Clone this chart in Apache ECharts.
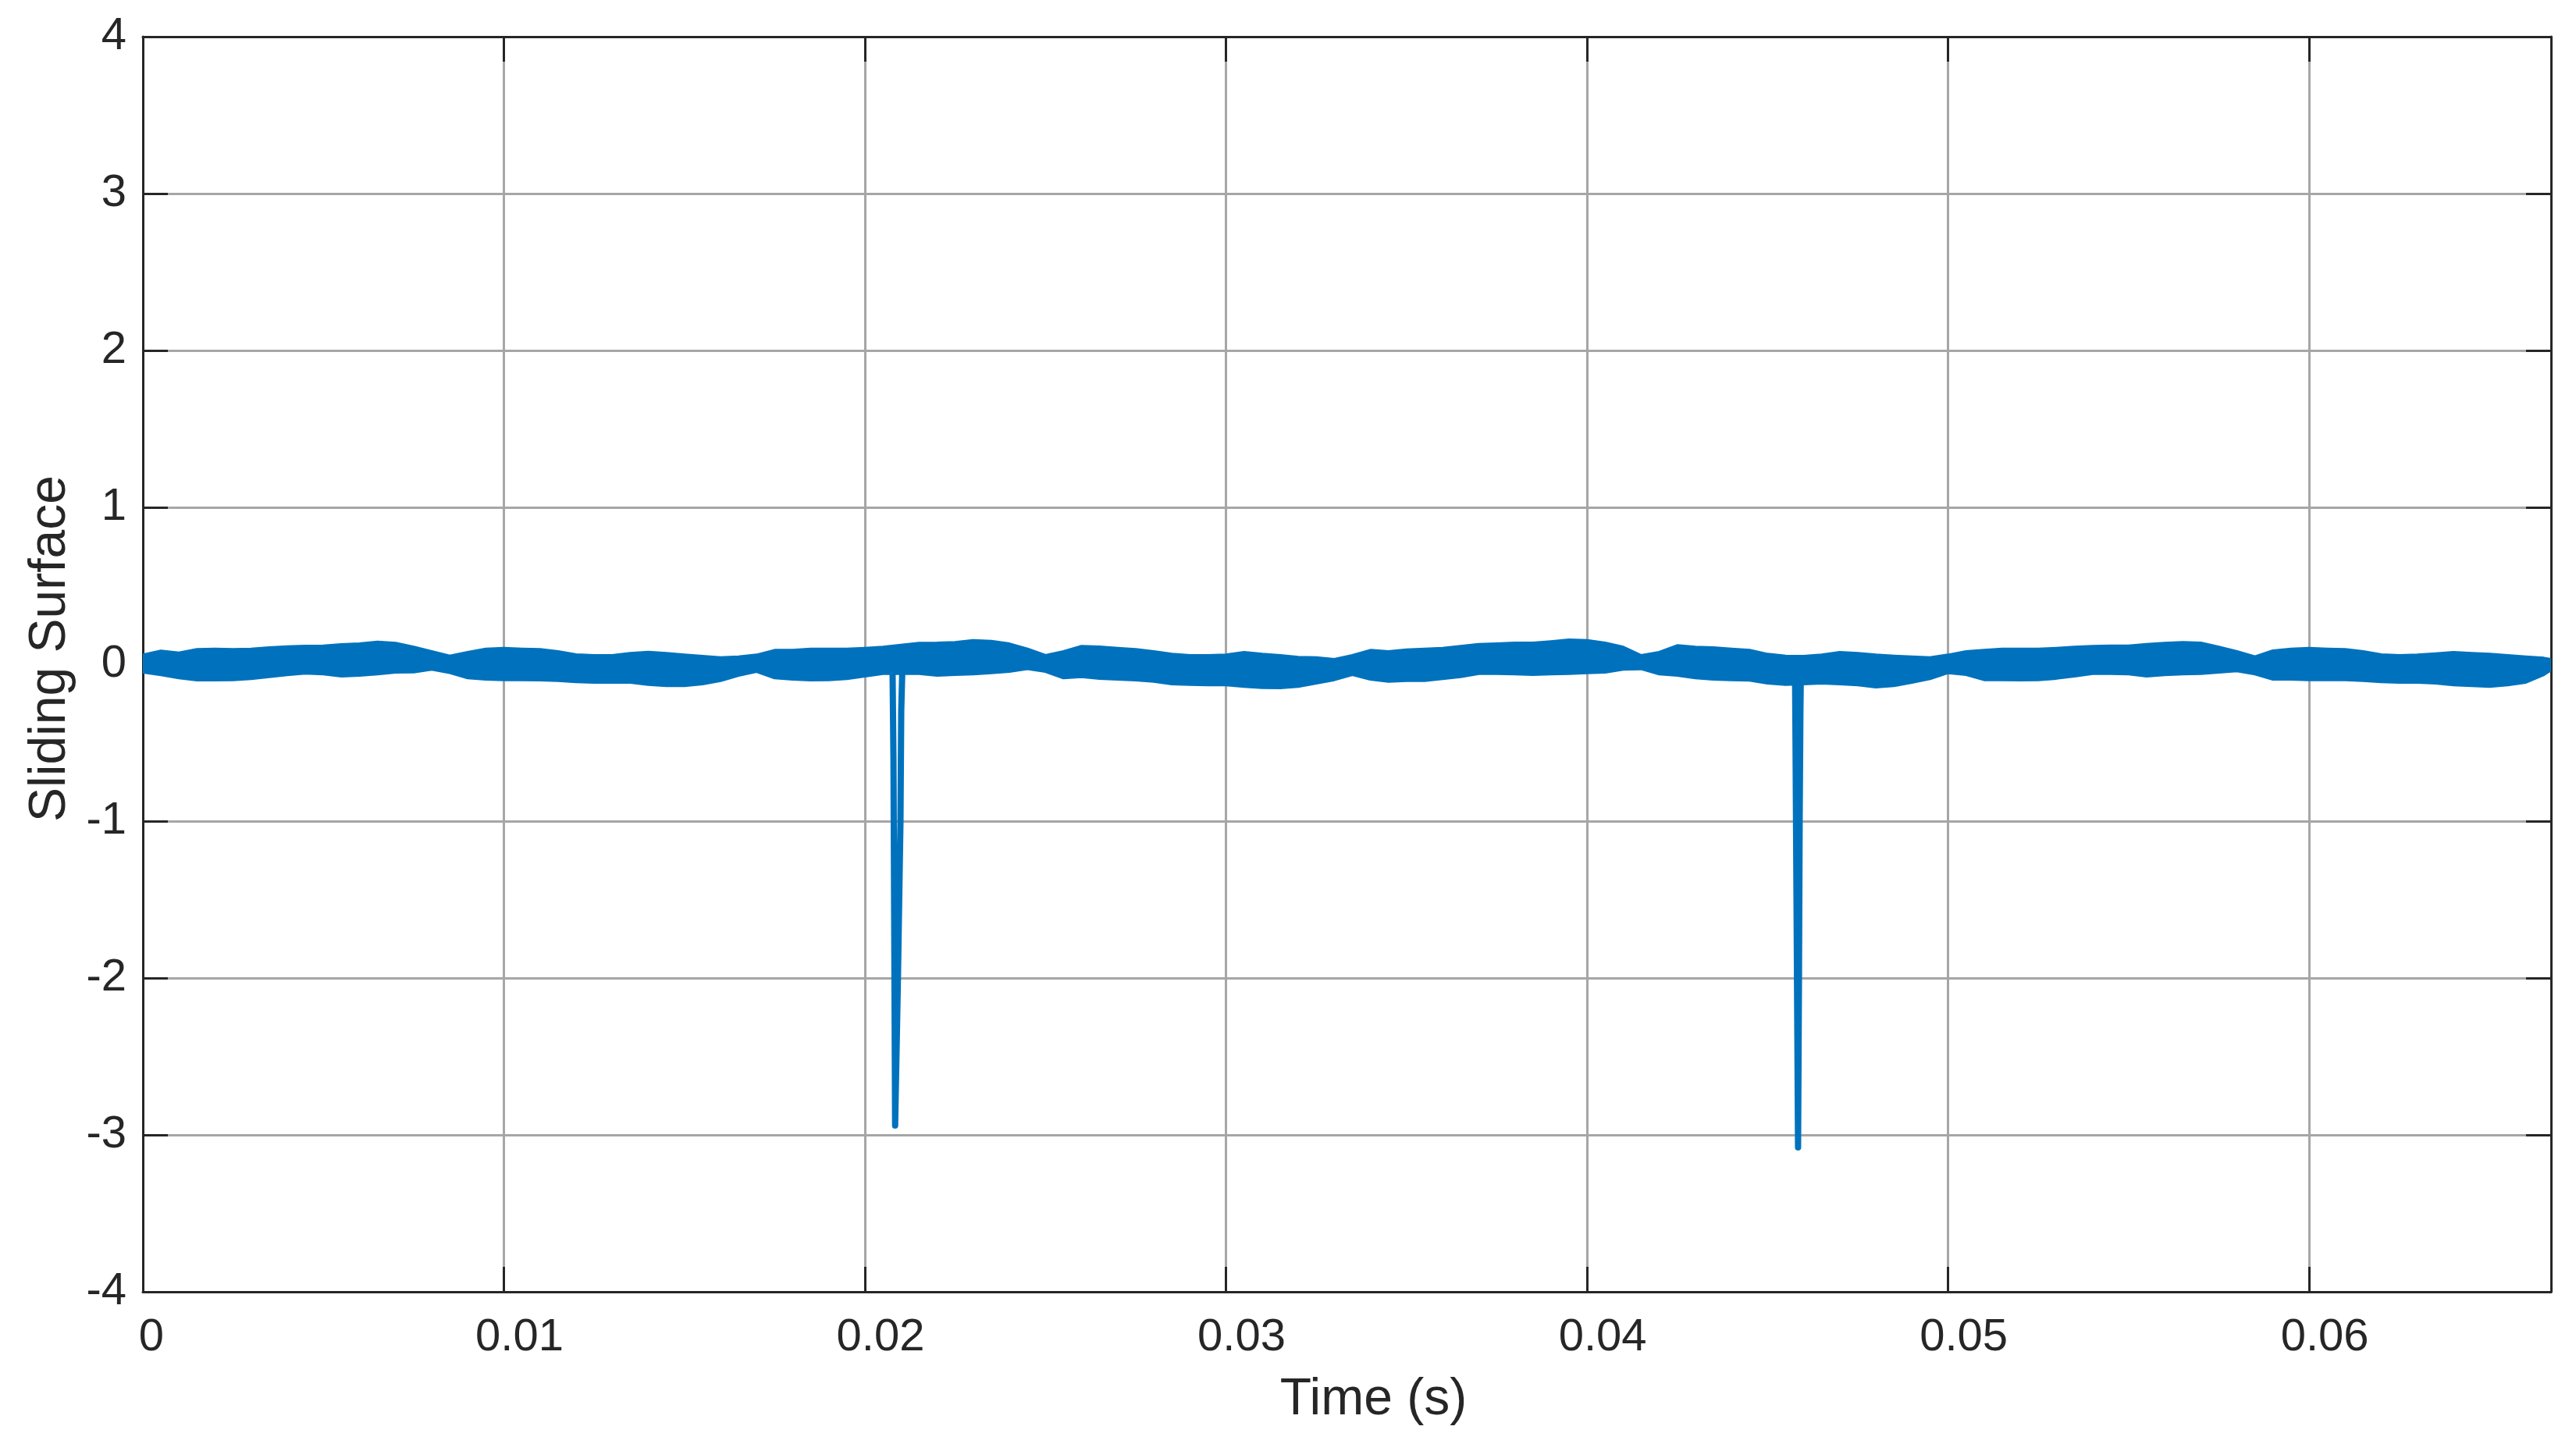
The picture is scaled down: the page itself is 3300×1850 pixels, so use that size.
<!DOCTYPE html>
<html>
<head>
<meta charset="utf-8">
<script src="https://cdn.jsdelivr.net/npm/echarts@6/dist/echarts.min.js"></script>
<style>
html,body{margin:0;padding:0;background:#fff;}
#chart{width:3300px;height:1850px;}
</style>
</head>
<body>
<div id="chart"></div>
<script>
// Time axis samples (s) for the chattering band envelope
const bandTime = [
0,0.0005,0.001,0.0015,0.002,0.0025,0.003,0.0035,0.004,0.0045,
0.005,0.0055,0.006,0.0065,0.007,0.0075,0.008,0.0085,0.009,0.0095,
0.010,0.0105,0.011,0.0115,0.012,0.0125,0.013,0.0135,0.014,0.0145,
0.015,0.0155,0.016,0.0165,0.017,0.0175,0.018,0.0185,0.019,0.0195,
0.020,0.0205,0.021,0.0215,0.022,0.0225,0.023,0.0235,0.024,0.0245,
0.025,0.0255,0.026,0.0265,0.027,0.0275,0.028,0.0285,0.029,0.0295,
0.030,0.0305,0.031,0.0315,0.032,0.0325,0.033,0.0335,0.034,0.0345,
0.035,0.0355,0.036,0.0365,0.037,0.0375,0.038,0.0385,0.039,0.0395,
0.040,0.0405,0.041,0.0415,0.042,0.0425,0.043,0.0435,0.044,0.0445,
0.045,0.0455,0.046,0.0465,0.047,0.0475,0.048,0.0485,0.049,0.0495,
0.050,0.0505,0.051,0.0515,0.052,0.0525,0.053,0.0535,0.054,0.0545,
0.055,0.0555,0.056,0.0565,0.057,0.0575,0.058,0.0585,0.059,0.0595,
0.060,0.0605,0.061,0.0615,0.062,0.0625,0.063,0.0635,0.064,0.0645,
0.065,0.0655,0.066,0.0665,0.0667
];
// Upper edge of the sliding-surface band
const bandUpper = [
0.058,0.083,0.071,0.093,0.096,0.093,0.096,0.104,0.111,0.114,
0.116,0.124,0.129,0.141,0.133,0.108,0.080,0.051,0.075,0.096,
0.101,0.096,0.093,0.080,0.060,0.055,0.055,0.068,0.076,0.068,
0.058,0.050,0.041,0.046,0.058,0.088,0.088,0.096,0.096,0.096,
0.101,0.108,0.121,0.133,0.134,0.138,0.151,0.146,0.129,0.096,
0.055,0.080,0.113,0.109,0.101,0.093,0.080,0.063,0.055,0.055,
0.058,0.075,0.063,0.055,0.043,0.041,0.030,0.055,0.088,0.080,
0.091,0.096,0.101,0.113,0.126,0.129,0.134,0.134,0.143,0.154,
0.151,0.134,0.108,0.055,0.075,0.118,0.108,0.104,0.096,0.088,
0.063,0.051,0.050,0.058,0.075,0.068,0.058,0.051,0.046,0.041,
0.058,0.080,0.088,0.096,0.096,0.096,0.101,0.108,0.113,0.116,
0.116,0.126,0.133,0.138,0.134,0.108,0.080,0.046,0.085,0.096,
0.101,0.096,0.093,0.080,0.060,0.055,0.058,0.066,0.075,0.068,
0.063,0.055,0.046,0.038,0.030
];
// Lower edge of the sliding-surface band
const bandLower = [
-0.050,-0.066,-0.086,-0.100,-0.100,-0.098,-0.091,-0.078,-0.066,-0.056,
-0.061,-0.075,-0.070,-0.061,-0.050,-0.048,-0.031,-0.053,-0.086,-0.095,
-0.098,-0.098,-0.100,-0.103,-0.111,-0.114,-0.114,-0.114,-0.128,-0.136,
-0.136,-0.124,-0.103,-0.070,-0.045,-0.086,-0.095,-0.100,-0.098,-0.091,
-0.075,-0.058,-0.058,-0.058,-0.070,-0.065,-0.061,-0.053,-0.045,-0.028,
-0.045,-0.086,-0.078,-0.089,-0.095,-0.100,-0.108,-0.124,-0.128,-0.131,
-0.131,-0.141,-0.148,-0.149,-0.141,-0.119,-0.098,-0.065,-0.095,-0.108,
-0.103,-0.103,-0.091,-0.078,-0.058,-0.058,-0.061,-0.065,-0.061,-0.058,
-0.053,-0.050,-0.031,-0.028,-0.061,-0.070,-0.086,-0.095,-0.098,-0.101,
-0.119,-0.128,-0.124,-0.119,-0.124,-0.131,-0.144,-0.136,-0.114,-0.091,
-0.053,-0.065,-0.098,-0.098,-0.100,-0.098,-0.089,-0.075,-0.058,-0.058,
-0.061,-0.075,-0.066,-0.061,-0.058,-0.050,-0.041,-0.061,-0.095,-0.095,
-0.098,-0.098,-0.098,-0.103,-0.111,-0.114,-0.114,-0.119,-0.131,-0.136,
-0.141,-0.131,-0.114,-0.065,-0.036
];
// The two deep excursions of the sliding surface
const spike1Time  = [0.02076, 0.02079, 0.020836, 0.020914, 0.020984, 0.021005, 0.021049];
const spike1Value = [0.07, -0.60, -2.94, -2.0, -1.0, -0.30, 0.08];
const spike2Time  = [0.04576, 0.045775, 0.045845, 0.045870, 0.045889, 0.045910, 0.045925];
const spike2Value = [0.00, -0.50, -3.08, -2.0, -1.0, -0.30, 0.00];

const xTicks = [0, 0.01, 0.02, 0.03, 0.04, 0.05, 0.06];
const yTicks = [-4, -3, -2, -1, 0, 1, 2, 3, 4];
const xMax = 0.0667;

const FONT = 'Liberation Sans, Arial, Helvetica, sans-serif';
const TXT = '#262626';
const BLUE = '#0072BD';

const spike1Data = spike1Time.map((t, i) => [t, spike1Value[i]]);
const spike2Data = spike2Time.map((t, i) => [t, spike2Value[i]]);

const chart = echarts.init(document.getElementById('chart'), null, {renderer: 'canvas'});

const axisLineStyle = {show: true, onZero: false, lineStyle: {color: TXT, width: 3}};
const tickStyle = {show: true, inside: true, length: 32, lineStyle: {color: TXT, width: 3}};

function renderBand(params, api) {
  const pts = [];
  for (let i = 0; i < bandTime.length; i++) pts.push(api.coord([bandTime[i], bandUpper[i]]));
  for (let i = bandTime.length - 1; i >= 0; i--) pts.push(api.coord([bandTime[i], bandLower[i]]));
  return {
    type: 'polygon',
    shape: {points: pts},
    style: {fill: BLUE, stroke: BLUE, lineWidth: 4, lineJoin: 'round'}
  };
}

chart.setOption({
  animation: false,
  backgroundColor: '#ffffff',
  grid: {left: 183, right: 32, top: 47, bottom: 195, containLabel: false, outerBoundsMode: 'none'},
  xAxis: [{
    type: 'value', min: 0, max: xMax, interval: 0.01, position: 'bottom',
    name: 'Time (s)', nameLocation: 'middle', nameGap: 106,
    nameTextStyle: {fontFamily: FONT, fontSize: 66, color: TXT, padding: [0, 0, 0, 68]},
    axisLine: axisLineStyle, axisTick: tickStyle,
    axisLabel: {
      show: true, margin: 30, fontFamily: FONT, fontSize: 58, color: TXT,
      showMaxLabel: false,
      formatter: v => {
        const r = Math.round(v * 100) / 100;
        if (xTicks.indexOf(r) < 0) return '';
        return r === 0 ? '{z|0}' : '{a|' + r.toFixed(2) + '}';
      },
      rich: {
        z: {fontFamily: FONT, fontSize: 58, color: TXT, padding: [0, 0, 0, 22]},
        a: {fontFamily: FONT, fontSize: 58, color: TXT, padding: [0, 0, 0, 40]}
      }
    },
    splitLine: {show: true, lineStyle: {color: '#a6a6a6', width: 3}}
  }, {
    type: 'value', min: 0, max: xMax, interval: 0.01, position: 'top',
    axisLine: axisLineStyle, axisTick: tickStyle, axisLabel: {show: false}, splitLine: {show: false}
  }],
  yAxis: [{
    type: 'value', min: -4, max: 4, interval: 1, position: 'left',
    name: 'Sliding Surface', nameLocation: 'middle', nameGap: 85,
    nameTextStyle: {fontFamily: FONT, fontSize: 66, color: TXT, padding: [0, 0, 0, 40]},
    axisLine: axisLineStyle, axisTick: tickStyle,
    axisLabel: {show: true, margin: 21, fontFamily: FONT, fontSize: 58, color: TXT,
      formatter: v => (yTicks.indexOf(v) >= 0 ? String(v) : '')},
    splitLine: {show: true, lineStyle: {color: '#a6a6a6', width: 3}}
  }, {
    type: 'value', min: -4, max: 4, interval: 1, position: 'right',
    axisLine: axisLineStyle, axisTick: tickStyle, axisLabel: {show: false}, splitLine: {show: false}
  }],
  series: [
    {
      type: 'custom', name: 'band', coordinateSystem: 'cartesian2d',
      xAxisIndex: 0, yAxisIndex: 0, data: [[0, 0]], encode: {x: 0, y: 1},
      renderItem: renderBand, silent: true, clip: true, z: 3
    },
    {
      type: 'line', name: 'spike1', data: spike1Data, showSymbol: false, symbol: 'none',
      lineStyle: {color: BLUE, width: 8, join: 'round', cap: 'round'}, z: 4
    },
    {
      type: 'line', name: 'spike2', data: spike2Data, showSymbol: false, symbol: 'none',
      lineStyle: {color: BLUE, width: 8, join: 'round', cap: 'round'}, z: 4
    }
  ]
});
</script>
</body>
</html>
